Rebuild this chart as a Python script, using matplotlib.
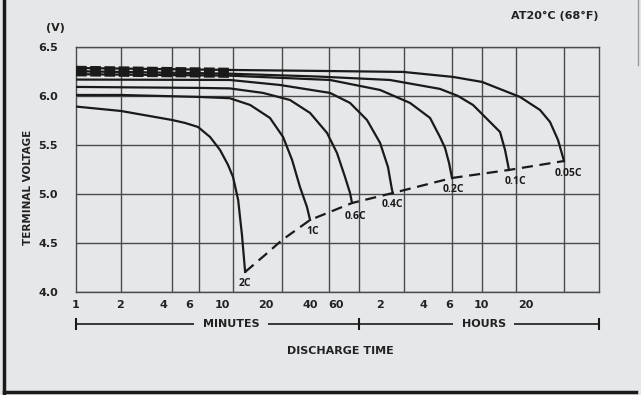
import matplotlib
matplotlib.use("Agg")
import matplotlib.pyplot as plt
from matplotlib.lines import Line2D
from matplotlib.ticker import NullFormatter

# discharge time (minutes) vs terminal voltage (V)
rates = ["2C", "1C", "0.6C", "0.4C", "0.2C", "0.1C", "0.05C"]

t_2c = [1, 2.03, 4.55, 5.58, 6.85, 8.28, 9.69, 11.0, 11.9, 12.9, 13.7, 14.4]
v_2c = [5.89, 5.845, 5.753, 5.723, 5.682, 5.58, 5.448, 5.295, 5.172, 4.938, 4.581, 4.204]

t_1c = [1, 2.03, 6.96, 11.3, 15.6, 21.3, 26.2, 30.2, 34.2, 38.2, 40.1]
v_1c = [6.008, 6.008, 5.988, 5.975, 5.906, 5.774, 5.580, 5.346, 5.070, 4.866, 4.734]

t_06c = [1, 6.96, 11.3, 19.1, 29.2, 40.1, 52.4, 61.3, 69.6, 75.3, 77.7]
v_06c = [6.09, 6.08, 6.075, 6.029, 5.957, 5.825, 5.621, 5.417, 5.172, 5.009, 4.907]

t_04c = [1, 11.3, 24.9, 54.9, 75.3, 98.4, 121, 137, 146, 148]
v_04c = [6.165, 6.161, 6.110, 6.029, 5.927, 5.753, 5.519, 5.274, 5.040, 5.009]

t_02c = [1, 11.3, 54.9, 121, 194, 266, 311, 337, 359, 376]
v_02c = [6.22, 6.205, 6.161, 6.059, 5.927, 5.774, 5.580, 5.468, 5.315, 5.162]

t_01c = [1, 11.3, 46.9, 141, 311, 413, 524, 802, 868, 924]
v_01c = [6.25, 6.225, 6.195, 6.161, 6.07, 5.998, 5.906, 5.631, 5.448, 5.244]

t_005c = [1, 11.3, 46.9, 174, 382, 604, 1099, 1507, 1764, 2002, 2200]
v_005c = [6.283, 6.263, 6.253, 6.243, 6.192, 6.141, 5.988, 5.855, 5.733, 5.549, 5.335]

# end-of-discharge voltage line
t_end = [14.4, 19.7, 25.8, 40.1, 77.7, 148, 376, 924, 2200]
v_end = [4.204, 4.377, 4.530, 4.734, 4.907, 5.009, 5.162, 5.244, 5.335]

# axis labels / grid
x_ticks = [1, 2, 4, 6, 10, 20, 40, 60, 120, 240, 360, 600, 1200]
x_labels = ["1", "2", "4", "6", "10", "20", "40", "60", "2", "4", "6", "10", "20"]
x_grid = [2.03, 4.55, 6.96, 11.9, 25.8, 54.1, 86.8, 176, 376, 604, 1030, 2200]
y_ticks = [4.0, 4.5, 5.0, 5.5, 6.0, 6.5]
x_max = 3820

bg = "#e6e7e9"
ink = "#1a1a1a"
grid_col = "#4a4a4a"
narrow = ["Liberation Sans Narrow", "DejaVu Sans"]

fig = plt.figure(figsize=(6.41, 3.95), dpi=100, facecolor=bg)
ax = fig.add_axes([76 / 641, 1 - 292 / 395, 523 / 641, 245.3 / 395])
ax.set_facecolor(bg)
ax.set_xscale("log")
ax.set_xlim(1, x_max)
ax.set_ylim(4.0, 6.5)

curves = [(t_2c, v_2c), (t_1c, v_1c), (t_06c, v_06c), (t_04c, v_04c),
          (t_02c, v_02c), (t_01c, v_01c), (t_005c, v_005c)]

for i, (t, v) in enumerate(curves):
    ax.plot(t, v, color=ink, lw=1.6, solid_joinstyle="round", zorder=3)
    if i >= 4:
        # the low-rate curves look like a heavy dashed band at the start
        n = t.index(11.3) + 1
        ax.plot(t[:n], v[:n], color=ink, lw=3.2, zorder=3,
                linestyle=(0, (2.4, 0.8)), solid_capstyle="butt")

ax.plot(t_end, v_end, color=ink, lw=1.6, linestyle=(0, (5, 3)), zorder=3)

# rate labels under each end point
offsets = [(0, -12), (3, -12), (3, -13), (0, -12), (1, -12), (6, -12), (4, -12)]
for (t, v), name, off in zip(curves, rates, offsets):
    ax.annotate(name, (t[-1], v[-1]), xytext=off, textcoords="offset pixels",
                ha="center", va="center", fontsize=7.5, fontweight="bold",
                family=["Open Sans", "DejaVu Sans"], color=ink)

# grid
ax.set_xticks(x_ticks, x_labels)
ax.set_xticks(x_grid, minor=True)
ax.xaxis.set_minor_formatter(NullFormatter())
ax.set_yticks(y_ticks, [f"{y:.1f}" for y in y_ticks])
ax.grid(which="minor", axis="x", color=grid_col, lw=1.0)
ax.grid(which="major", axis="y", color=grid_col, lw=1.0)
ax.grid(which="major", axis="x", visible=False)
ax.tick_params(which="both", length=0)
ax.tick_params(axis="x", pad=6)
ax.tick_params(axis="y", pad=13)
for lab in ax.get_xticklabels() + ax.get_yticklabels():
    lab.set_family(narrow)
    lab.set_fontweight("bold")
    lab.set_fontsize(8)
    lab.set_color("#222222")
for s in ax.spines.values():
    s.set_color(grid_col)
    s.set_linewidth(1.0)

# MINUTES / HOURS brackets
xt = ax.get_xaxis_transform()
yb = -0.13
ax.plot([1, x_max], [yb, yb], transform=xt, clip_on=False, color=ink, lw=1.2)
ax.plot([1, x_grid[6], x_max], [yb] * 3, transform=xt, clip_on=False,
        color=ink, lw=0, marker="|", markersize=9, markeredgewidth=1.5)
for label, xc in [("MINUTES", 11.5), ("HOURS", 621)]:
    ax.text(xc, yb, label, transform=xt, ha="center", va="center",
            fontsize=8, fontweight="bold", family=narrow, color="#222222",
            bbox=dict(facecolor=bg, edgecolor="none", pad=6))

fig.text(340 / 641, 1 - 351 / 395, "DISCHARGE TIME", ha="center", va="center",
         fontsize=8, fontweight="bold", family=narrow, color="#222222")
fig.text(28 / 641, 1 - 187 / 395, "TERMINAL VOLTAGE", ha="center", va="center",
         rotation=90, fontsize=7.5, fontweight="bold", family=narrow, color="#222222")
fig.text(55 / 641, 1 - 28 / 395, "(V)", ha="center", va="center",
         fontsize=8, fontweight="bold", family=narrow, color="#222222")
fig.text(555 / 641, 1 - 16 / 395, "AT20°C (68°F)", ha="center", va="center",
         fontsize=8, fontweight="bold", family=narrow, color="#222222")

# scanned box frame
fig.add_artist(Line2D([4 / 641, 4 / 641], [0, 1], color=ink, lw=2.5))
fig.add_artist(Line2D([4 / 641, 636 / 641], [3 / 395, 3 / 395], color=ink, lw=2.5))
fig.add_artist(Line2D([638 / 641, 638 / 641], [1 - 65 / 395, 1], color="#9a9a9a", lw=1.0))

fig.savefig("out.png", dpi=100, facecolor=bg)
